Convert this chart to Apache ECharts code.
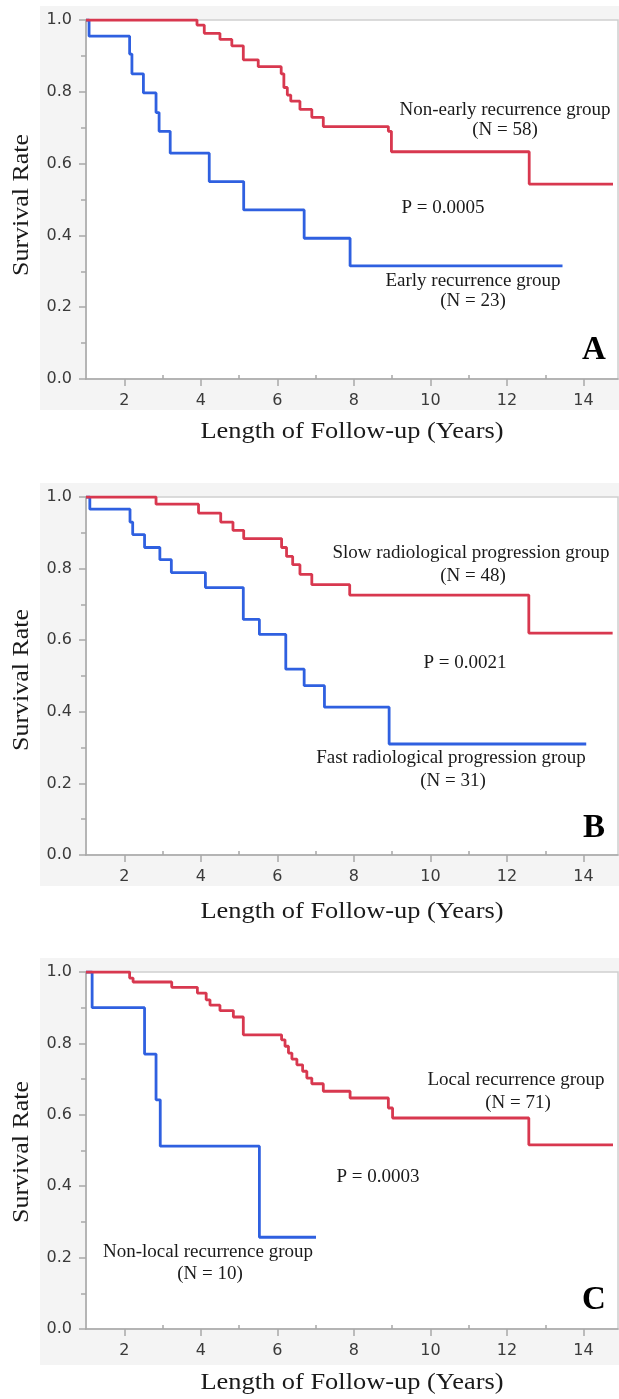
<!DOCTYPE html>
<html>
<head>
<meta charset="utf-8">
<script src="https://cdn.jsdelivr.net/npm/echarts@6/dist/echarts.min.js"></script>
<style>html,body{margin:0;padding:0;background:#fff}#c{width:619px;height:1399px}</style>
</head>
<body>
<div id="c"></div>
<script>
// ---- data (years, survival rate) ----
const xMajorTicks = [2, 4, 6, 8, 10, 12, 14];
const xMinorTicks = [3, 5, 7, 9, 11, 13];
const panelLetters = ['A', 'B', 'C'];
const pValues = ['P = 0.0005', 'P = 0.0021', 'P = 0.0003'];
const groupNames = [
  ['Early recurrence group', '(N = 23)', 'Non-early recurrence group', '(N = 58)'],
  ['Fast radiological progression group', '(N = 31)', 'Slow radiological progression group', '(N = 48)'],
  ['Non-local recurrence group', '(N = 10)', 'Local recurrence group', '(N = 71)']
];

const aBlueT = [1, 1.08, 2.14, 2.2, 2.5, 2.83, 2.91, 3.2, 4.22, 5.12, 6.7, 7.9, 13.45];
const aBlueS = [1, 0.955, 0.905, 0.85, 0.797, 0.742, 0.69, 0.629, 0.55, 0.471, 0.392, 0.315, 0.315];
const aRedT = [1, 3.9, 4.09, 4.5, 4.81, 5.11, 5.5, 6.1, 6.17, 6.26, 6.35, 6.59, 6.9, 7.2, 8.9, 8.98, 12.58, 14.77];
const aRedS = [1, 0.986, 0.963, 0.946, 0.928, 0.889, 0.87, 0.85, 0.812, 0.791, 0.774, 0.751, 0.729, 0.703, 0.69, 0.633, 0.543, 0.543];

const bBlueT = [1, 1.1, 2.15, 2.22, 2.53, 2.93, 3.23, 4.12, 5.11, 5.53, 6.22, 6.7, 7.23, 8.92, 14.07];
const bBlueS = [1, 0.966, 0.93, 0.895, 0.859, 0.825, 0.789, 0.747, 0.658, 0.616, 0.519, 0.473, 0.413, 0.31, 0.31];
const bRedT = [1, 2.83, 3.94, 4.52, 4.84, 5.12, 6.11, 6.24, 6.4, 6.59, 6.9, 7.89, 12.57, 14.76];
const bRedS = [1, 0.98, 0.955, 0.93, 0.907, 0.884, 0.859, 0.834, 0.811, 0.784, 0.755, 0.726, 0.62, 0.62];

const cBlueT = [1, 1.16, 2.53, 2.83, 2.94, 5.53, 7.01];
const cBlueS = [1, 0.9, 0.77, 0.642, 0.512, 0.257, 0.257];
const cRedT = [1, 2.14, 2.23, 3.24, 3.91, 4.14, 4.24, 4.5, 4.85, 5.11, 6.11, 6.2, 6.29, 6.38, 6.51, 6.66, 6.77, 6.9, 7.2, 7.9, 8.9, 9.01, 12.57, 14.77];
const cRedS = [1, 0.983, 0.972, 0.957, 0.941, 0.922, 0.907, 0.892, 0.874, 0.824, 0.81, 0.792, 0.773, 0.756, 0.74, 0.722, 0.703, 0.687, 0.666, 0.647, 0.619, 0.591, 0.516, 0.516];

const curves = [[aBlueT, aBlueS, aRedT, aRedS], [bBlueT, bBlueS, bRedT, bRedS], [cBlueT, cBlueS, cRedT, cRedS]];

// ---- layout ----
const BLUE = '#2f60e0', RED = '#d8384f';
const AXIS = '#a8a8a8';
const serif = '"Liberation Serif", "Times New Roman", serif';
const sans = '"DejaVu Sans", Verdana, sans-serif';
const panels = [
  {top: 20, h: 359, bgTop: 6, bgBot: 410, xt: 432, yt: 205,
   txt: [[473, 281], [473, 301], [505, 110], [505, 130]], p: [443, 208], L: [594, 350]},
  {top: 497, h: 358, bgTop: 483, bgBot: 886, xt: 912, yt: 680,
   txt: [[451, 758], [453, 781], [471, 553], [473, 576]], p: [465, 663], L: [594, 828]},
  {top: 972, h: 357, bgTop: 958, bgBot: 1365, xt: 1383, yt: 1152,
   txt: [[208, 1252], [210, 1274], [516, 1080], [518, 1103]], p: [378, 1177], L: [594, 1300]}
];
const LEFT = 86, WIDTH = 532, XMIN = 1, XMAX = 14.9;

const grid = [], xAxis = [], yAxis = [], series = [], graphic = [];
panels.forEach((p, i) => {
  graphic.push({type: 'rect', z: -10, shape: {x: 40, y: p.bgTop, width: 579, height: p.bgBot - p.bgTop}, style: {fill: '#f4f4f4'}});
  grid.push({left: LEFT, top: p.top, width: WIDTH, height: p.h, show: true, backgroundColor: '#ffffff', borderColor: '#cfcfcf', borderWidth: 1.5});
  xAxis.push({type: 'value', gridIndex: i, min: XMIN, max: XMAX,
    axisLine: {show: true, onZero: false, lineStyle: {color: AXIS, width: 1.5}},
    axisTick: {show: true, customValues: xMajorTicks, length: 7, lineStyle: {color: AXIS, width: 1.5}},
    axisLabel: {customValues: xMajorTicks, margin: 14, fontSize: 16, fontFamily: sans, color: '#3a3a3a'},
    splitLine: {show: false}});
  xAxis.push({type: 'value', gridIndex: i, min: XMIN, max: XMAX,
    axisLine: {show: false},
    axisTick: {show: true, customValues: xMinorTicks, length: 4, lineStyle: {color: AXIS, width: 1.5}},
    axisLabel: {show: false}, splitLine: {show: false}});
  yAxis.push({type: 'value', gridIndex: i, min: 0, max: 1, interval: 0.2,
    axisLine: {show: true, onZero: false, lineStyle: {color: AXIS, width: 1.5}},
    axisTick: {show: true, length: 7, lineStyle: {color: AXIS, width: 1.5}},
    minorTick: {show: true, splitNumber: 2, length: 5, lineStyle: {color: AXIS, width: 1.5}},
    axisLabel: {margin: 14, fontSize: 16, fontFamily: sans, color: '#3a3a3a', formatter: v => v.toFixed(1)},
    splitLine: {show: false}});
  const c = curves[i];
  [[c[0], c[1], BLUE], [c[2], c[3], RED]].forEach(([t, s, col]) => {
    series.push({type: 'line', step: 'end', xAxisIndex: 2 * i, yAxisIndex: i, showSymbol: false, symbol: 'none',
      lineStyle: {color: col, width: 2.8}, data: t.map((x, k) => [x, s[k]]), animation: false});
  });
  const names = groupNames[i];
  names.forEach((n, k) => {
    graphic.push({type: 'text', x: p.txt[k][0], y: p.txt[k][1],
      style: {text: n, fill: '#1a1a1a', font: '19px ' + serif, textAlign: 'center', textVerticalAlign: 'middle'}});
  });
  graphic.push({type: 'text', x: p.p[0], y: p.p[1], style: {text: pValues[i], fill: '#1a1a1a', font: '19px ' + serif, textAlign: 'center', textVerticalAlign: 'middle'}});
  graphic.push({type: 'text', x: p.L[0], y: p.L[1], style: {text: panelLetters[i], fill: '#000', font: 'bold 33px ' + serif, textAlign: 'center', textVerticalAlign: 'middle'}});
  graphic.push({type: 'text', x: 352, y: p.xt, scaleX: 1.1, style: {text: 'Length of Follow-up (Years)', fill: '#1a1a1a', font: '24px ' + serif, textAlign: 'center', textVerticalAlign: 'middle'}});
  graphic.push({type: 'text', x: 22, y: p.yt, rotation: Math.PI / 2, scaleX: 1.08, style: {text: 'Survival Rate', fill: '#1a1a1a', font: '24px ' + serif, textAlign: 'center', textVerticalAlign: 'middle'}});
});

const chart = echarts.init(document.getElementById('c'), null, {renderer: 'canvas'});
chart.setOption({backgroundColor: '#ffffff', animation: false, grid, xAxis, yAxis, series, graphic});
</script>
</body>
</html>
